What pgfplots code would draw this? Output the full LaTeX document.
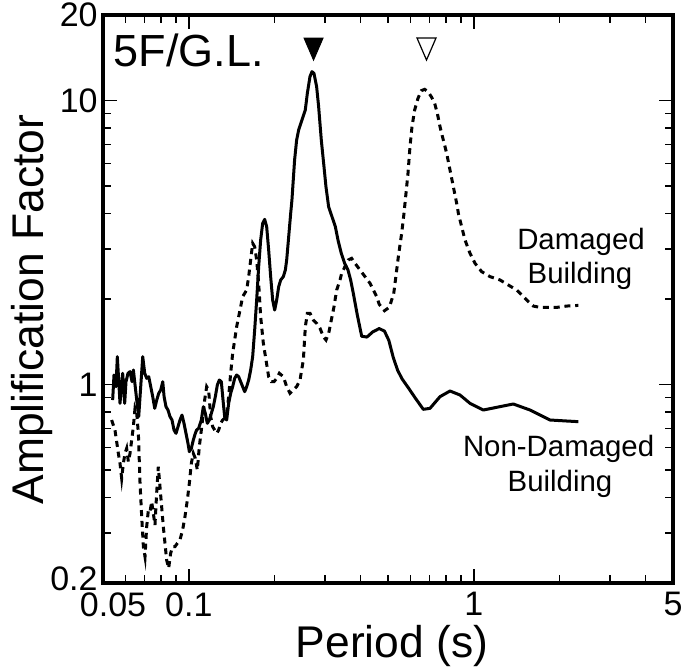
\documentclass[border=0pt]{standalone}
\usepackage{fontspec}
\setmainfont{Liberation Sans}
\usepackage{pgfplots}
\pgfplotsset{compat=1.18}

% downward triangle marker (peak periods)
\pgfdeclareplotmark{dtri}{%
  \pgfpathmoveto{\pgfqpoint{-0.95\pgfplotmarksize}{1.1\pgfplotmarksize}}%
  \pgfpathlineto{\pgfqpoint{0.95\pgfplotmarksize}{1.1\pgfplotmarksize}}%
  \pgfpathlineto{\pgfqpoint{0pt}{-1.1\pgfplotmarksize}}%
  \pgfpathclose
  \pgfusepathqfillstroke}

\begin{document}
\begin{tikzpicture}
\useasboundingbox (-51.5pt,-41.5pt) rectangle (290pt,291.5pt);
\begin{loglogaxis}[
    at={(0pt,0pt)}, anchor=south west,
    scale only axis, width=285pt, height=284pt,
    xmin=0.05, xmax=5, ymin=0.2, ymax=20,
    xtick={0.05,0.1,1,5},
    xticklabels={\hspace{10pt}0.05,0.1,1,5},
    minor xtick={0.06,0.07,0.08,0.09,0.2,0.3,0.4,0.5,0.6,0.7,0.8,0.9,2,3,4},
    ytick={0.2,1,10,20},
    yticklabels={\raisebox{4pt}{0.2},1,10,20},
    minor ytick={0.3,0.4,0.5,0.6,0.7,0.8,0.9,2,3,4,5,6,7,8,9},
    major tick length=7pt, minor tick length=4pt,
    tick style={line width=0.8pt, black},
    axis line style={line width=2pt},
    /pgf/number format/assume math mode=true,
    ticklabel style={font=\fontsize{17}{17}\selectfont},
    xticklabel style={inner sep=4.5pt},
    yticklabel style={inner sep=2.5pt},
    clip=false,
]
% Non-Damaged Building
\addplot[black, line width=1.5pt, line join=round, no marks] table {
x y
0.05406 0.8817
0.05465 1.080
0.05554 0.9825
0.05614 1.253
0.05675 1.037
0.05737 0.8584
0.05799 0.9825
0.05862 1.095
0.05957 0.8584
0.06022 1.023
0.06120 1.095
0.06220 1.110
0.06322 1.023
0.06391 1.125
0.06460 1.023
0.06566 0.8817
0.06673 0.7705
0.06782 0.9825
0.06893 1.253
0.07005 1.095
0.07119 1.051
0.07235 1.065
0.07353 0.9825
0.07473 0.9061
0.07595 0.8243
0.07719 0.8817
0.07845 0.9308
0.07973 0.9563
0.08103 1.023
0.08191 0.9061
0.08318 0.8355
0.08454 0.8131
0.08592 0.7705
0.08732 0.7500
0.08874 0.6914
0.09019 0.6730
0.09166 0.7104
0.09315 0.7500
0.09467 0.7807
0.09620 0.7300
0.09777 0.6730
0.09936 0.6204
0.10044 0.5800
0.10207 0.5960
0.10372 0.6375
0.10541 0.6730
0.10655 0.6914
0.10829 0.7009
0.11066 0.7500
0.11246 0.8355
0.11429 0.7914
0.11616 0.7300
0.11805 0.7500
0.11997 0.7914
0.12193 0.8355
0.12392 0.9061
0.12593 0.9959
0.12799 1.037
0.13007 1.023
0.13219 0.8584
0.13362 0.7705
0.13580 0.7500
0.13802 0.8584
0.14026 0.9308
0.14255 0.9825
0.14487 1.051
0.14723 1.080
0.14963 1.065
0.15207 1.023
0.15455 0.9825
0.15707 0.9435
0.15963 0.9825
0.16223 1.037
0.16487 1.125
0.16756 1.253
0.17029 1.555
0.17306 1.984
0.17588 2.600
0.17874 3.227
0.18166 3.694
0.18462 3.816
0.18762 3.595
0.19068 2.975
0.19379 2.398
0.19695 1.984
0.20016 1.829
0.20342 1.984
0.20674 2.210
0.21011 2.333
0.21468 2.398
0.21818 2.531
0.22054 2.744
0.22414 3.315
0.22779 4.006
0.2301 4.463
0.2351 6.172
0.2390 7.258
0.2429 7.874
0.2495 8.537
0.2563 9.260
0.2606 10.598
0.2662 12.131
0.2705 12.633
0.2749 12.463
0.2809 11.188
0.2855 9.512
0.2917 7.258
0.2981 5.848
0.3029 4.972
0.3095 4.228
0.3180 3.899
0.3267 3.595
0.3338 3.227
0.3429 2.896
0.3523 2.671
0.3619 2.531
0.3698 2.333
0.3778 2.094
0.3902 1.758
0.4043 1.479
0.4218 1.469
0.4417 1.531
0.4658 1.574
0.4860 1.541
0.5035 1.429
0.5217 1.245
0.5405 1.122
0.5601 1.047
0.5904 0.9709
0.6228 0.8972
0.6650 0.8177
0.7021 0.8243
0.7612 0.9061
0.8251 0.9486
0.8946 0.9183
0.9698 0.8584
1.080 0.8131
1.203 0.8310
1.376 0.8538
1.575 0.8131
1.851 0.7500
2.118 0.7439
2.327 0.7399
};
% Damaged Building
\addplot[black, line width=1.5pt, dash pattern=on 3pt off 2.4pt, no marks] table {
x y
0.05362 0.7500
0.05508 0.6914
0.05660 0.5722
0.05737 0.5277
0.05815 0.4673
0.05894 0.5277
0.05974 0.5722
0.06055 0.5960
0.06137 0.5349
0.06220 0.5722
0.06304 0.6375
0.06390 0.7104
0.06476 0.8243
0.06566 0.7914
0.06655 0.6730
0.06745 0.4487
0.06836 0.3424
0.06929 0.2685
0.07022 0.2475
0.07117 0.3158
0.07213 0.3614
0.07311 0.3566
0.07410 0.3867
0.07510 0.3518
0.07611 0.3201
0.07714 0.4137
0.07818 0.5136
0.07924 0.4368
0.08031 0.3713
0.08140 0.3158
0.08250 0.2759
0.08362 0.2409
0.0850 0.2253
0.08634 0.2543
0.08775 0.2685
0.08942 0.2685
0.09112 0.2759
0.09311 0.2836
0.09514 0.3074
0.09695 0.3424
0.09883 0.3920
0.10044 0.4487
0.10207 0.5277
0.10372 0.5722
0.10541 0.5495
0.10713 0.5000
0.10888 0.6041
0.11066 0.6914
0.11246 0.7914
0.11368 0.8817
0.11553 0.9825
0.11741 0.9563
0.11932 0.7705
0.12127 0.7104
0.12325 0.6914
0.12525 0.6730
0.12730 0.6914
0.12937 0.7300
0.13148 0.7500
0.13362 0.7602
0.13580 0.7807
0.13802 0.9061
0.14026 1.095
0.14255 1.287
0.14487 1.434
0.14723 1.598
0.14963 1.733
0.15207 1.879
0.15455 2.038
0.15707 2.094
0.15963 2.151
0.16223 2.398
0.16487 2.744
0.16756 3.141
0.17029 3.057
0.17306 2.744
0.17588 2.271
0.17874 1.733
0.18264 1.396
0.18661 1.220
0.19068 1.065
0.19484 1.023
0.19908 1.023
0.20342 1.051
0.20785 1.095
0.21468 1.065
0.22054 0.9825
0.22657 0.9308
0.23274 0.9563
0.23909 0.9825
0.24562 1.037
0.25232 1.220
0.25643 1.598
0.26061 1.781
0.26629 1.781
0.27356 1.687
0.28103 1.642
0.28870 1.577
0.29658 1.474
0.30305 1.434
0.30965 1.514
0.31632 1.687
0.32321 1.879
0.33025 2.151
0.33926 2.333
0.3439 2.462
0.3532 2.600
0.3628 2.744
0.3728 2.781
0.3831 2.671
0.3988 2.531
0.4153 2.398
0.4324 2.271
0.4442 2.151
0.4563 2.038
0.4658 1.916
0.4860 1.819
0.5052 1.870
0.5236 2.088
0.5292 2.271
0.5436 2.818
0.5584 3.406
0.5690 4.006
0.5782 4.711
0.5877 5.541
0.5972 6.877
0.6070 8.090
0.6202 9.260
0.6371 10.177
0.6544 10.829
0.6723 10.947
0.6906 10.742
0.7095 10.315
0.7290 9.772
0.7449 9.013
0.7612 8.090
0.7819 7.258
0.8033 6.515
0.8207 5.848
0.8386 5.248
0.8568 4.711
0.8755 4.228
0.8826 4.006
0.9067 3.595
0.9315 3.227
0.9698 2.896
1.010 2.671
1.066 2.496
1.140 2.398
1.236 2.333
1.322 2.240
1.414 2.151
1.492 2.038
1.554 1.957
1.618 1.889
1.707 1.869
1.827 1.869
1.954 1.869
2.118 1.889
2.327 1.899
};
% peak markers
\addplot[only marks, mark=dtri, mark size=5pt,
    mark options={fill=black, draw=black, line width=0.5pt}] coordinates {(0.274,15.18)};
\addplot[only marks, mark=dtri, mark size=5pt,
    mark options={fill=white, draw=black, line width=0.6pt}] coordinates {(0.6825,15.18)};

\node[anchor=base west, inner sep=0, font=\fontsize{22.5}{22.5}\selectfont]
    at (rel axis cs:0.018,0.9085) {5F/G.L.};
\node[anchor=base, inner sep=0, font=\fontsize{14.7}{14.7}\selectfont]
    at (rel axis cs:0.8386,0.5863) {Damaged};
\node[anchor=base, inner sep=0, font=\fontsize{14.7}{14.7}\selectfont]
    at (rel axis cs:0.8368,0.5276) {Building};
\node[anchor=base, inner sep=0, font=\fontsize{14.7}{14.7}\selectfont]
    at (rel axis cs:0.7993,0.2236) {Non-Damaged};
\node[anchor=base, inner sep=0, font=\fontsize{14.7}{14.7}\selectfont]
    at (rel axis cs:0.8018,0.1611) {Building};
\node[anchor=base, inner sep=0, font=\fontsize{22.2}{22.2}\selectfont]
    at (rel axis cs:0.507,-0.1303) {Period (s)};
\node[rotate=90, anchor=center, inner sep=0, font=\fontsize{22.2}{22.2}\selectfont]
    at (rel axis cs:-0.1246,0.4815) {Amplification Factor};
\end{loglogaxis}
\end{tikzpicture}
\end{document}
